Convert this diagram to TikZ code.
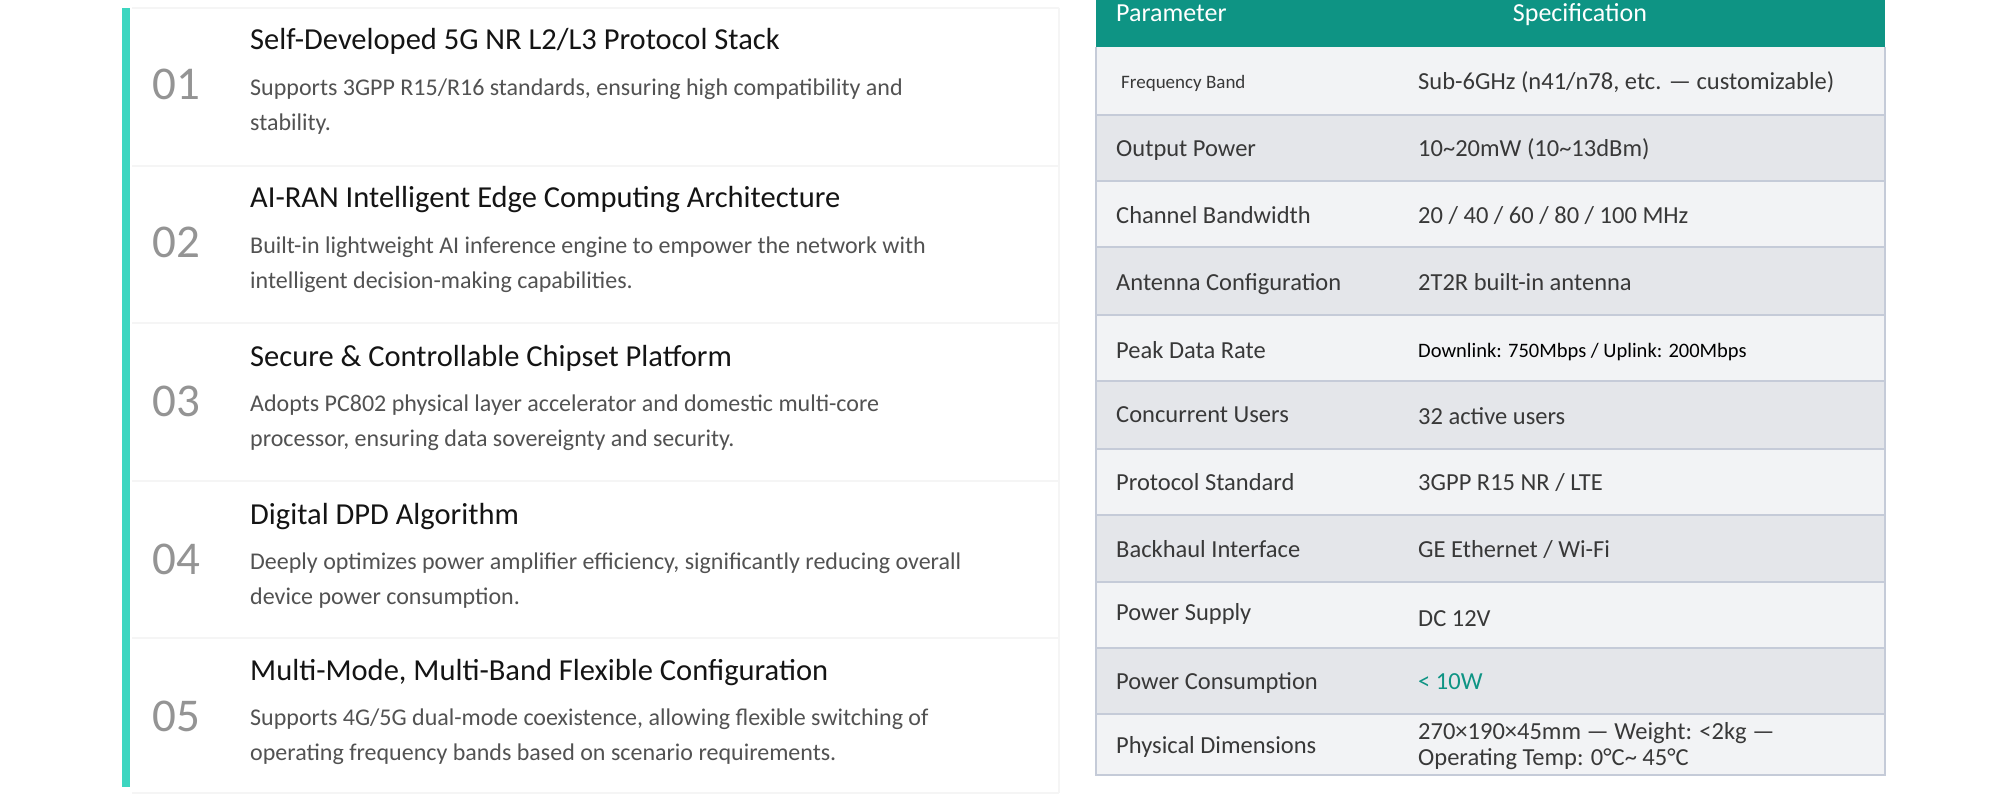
\documentclass[tikz,border=0pt]{standalone}
\usepackage{fontspec}
\setmainfont{Carlito}
\begin{document}
\begin{tikzpicture}[x=1pt,y=-1pt,
  num/.style={anchor=base west,text=black!42,font=\fontsize{47}{47}\selectfont,inner sep=0},
  ttl/.style={anchor=base west,text=black!92,font=\fontsize{30.5}{30}\selectfont,inner sep=0},
  dsc/.style={anchor=base west,text=black!68,font=\fontsize{24}{34.5}\selectfont,inner sep=0,align=left},
  sep/.style={draw=black!4,line width=1.2},
  cell/.style={anchor=base west,text=black!78,font=\fontsize{24.5}{24}\selectfont,inner sep=0},
  hd/.style={text=white,font=\fontsize{26}{26}\selectfont,inner sep=0,anchor=base},
]
\definecolor{teal1}{HTML}{0E9484}
\definecolor{acc}{HTML}{3DD6C0}
\definecolor{rA}{HTML}{F2F3F5}
\definecolor{rB}{HTML}{E4E6EA}
\definecolor{bd}{HTML}{C5CBD8}
\useasboundingbox (0,0) rectangle (2000,810);
\fill[white] (0,0) rectangle (2000,810);
% left panel
\fill[acc] (122,8) rectangle (130,787);
\foreach \y in {8,166,323,481,638,793} \draw[sep] (132,\y) -- (1059,\y);
\draw[sep] (1059,8) -- (1059,793);
\node[num] (n1) at (152,100) {01};
\node[num] (n2) at (152,258) {02};
\node[num] (n3) at (152,416) {03};
\node[num] (n4) at (152,574) {04};
\node[num] (n5) at (152,731) {05};
\node[ttl] (t1) at (250,50) {Self-Developed 5G NR L2/L3 Protocol Stack};
\node[ttl] (t2) at (250,208) {AI-RAN Intelligent Edge Computing Architecture};
\node[ttl] (t3) at (250,366) {Secure \& Controllable Chipset Platform};
\node[ttl] (t4) at (250,524) {Digital DPD Algorithm};
\node[ttl] (t5) at (250,680) {Multi-Mode, Multi-Band Flexible Configuration};
\node[dsc,anchor=north west] (d1) at (250,79) {Supports 3GPP R15/R16 standards, ensuring high compatibility and\\stability.};
\node[dsc,anchor=north west] (d2) at (250,237) {Built-in lightweight AI inference engine to empower the network with\\intelligent decision-making capabilities.};
\node[dsc,anchor=north west] (d3) at (250,395) {Adopts PC802 physical layer accelerator and domestic multi-core\\processor, ensuring data sovereignty and security.};
\node[dsc,anchor=north west] (d4) at (250,553) {Deeply optimizes power amplifier efficiency, significantly reducing overall\\device power consumption.};
\node[dsc,anchor=north west] (d5) at (250,709) {Supports 4G/5G dual-mode coexistence, allowing flexible switching of\\operating frequency bands based on scenario requirements.};
% table
\fill[teal1] (1096,0) rectangle (1885,47);
\node[hd,anchor=base west] (h1) at (1116,22) {Parameter};
\node[hd] (h2) at (1580,22) {Specification};
\fill[rA] (1096,47) rectangle (1885,115);
\fill[rB] (1096,115) rectangle (1885,181);
\fill[rA] (1096,181) rectangle (1885,247);
\fill[rB] (1096,247) rectangle (1885,315);
\fill[rA] (1096,315) rectangle (1885,381);
\fill[rB] (1096,381) rectangle (1885,449);
\fill[rA] (1096,449) rectangle (1885,515);
\fill[rB] (1096,515) rectangle (1885,582);
\fill[rA] (1096,582) rectangle (1885,648);
\fill[rB] (1096,648) rectangle (1885,714);
\fill[rA] (1096,714) rectangle (1885,775);
\foreach \y in {115,181,247,315,381,449,515,582,648,714} \draw[bd,line width=1.5] (1096,\y) -- (1885,\y);
\draw[bd,line width=1.5] (1096,47) -- (1096,775) -- (1885,775) -- (1885,47);
\node[cell,font=\fontsize{19}{19}\selectfont] (p1) at (1121,89) {Frequency Band};
\node[cell] (v1) at (1418,90) {Sub-6GHz (n41/n78, etc. — customizable)};
\node[cell] (p2) at (1116,157) {Output Power};
\node[cell] (v2) at (1418,157) {10\textasciitilde20mW (10\textasciitilde13dBm)};
\node[cell] (p3) at (1116,224) {Channel Bandwidth};
\node[cell] (v3) at (1418,224) {20 / 40 / 60 / 80 / 100 MHz};
\node[cell] (p4) at (1116,291) {Antenna Configuration};
\node[cell] (v4) at (1418,291) {2T2R built-in antenna};
\node[cell] (p5) at (1116,358) {Peak Data Rate};
\node[cell,text=black,font=\fontsize{20.5}{20}\selectfont] (v5) at (1418,357) {Downlink: 750Mbps / Uplink: 200Mbps};
\node[cell] (p6) at (1116,422) {Concurrent Users};
\node[cell] (v6) at (1418,424) {32 active users};
\node[cell] (p7) at (1116,490) {Protocol Standard};
\node[cell] (v7) at (1418,490) {3GPP R15 NR / LTE};
\node[cell] (p8) at (1116,557) {Backhaul Interface};
\node[cell] (v8) at (1418,557) {GE Ethernet / Wi-Fi};
\node[cell] (p9) at (1116,620) {Power Supply};
\node[cell] (v9) at (1418,626) {DC 12V};
\node[cell] (p10) at (1116,689) {Power Consumption};
\node[cell,text=teal1] (v10) at (1418,689) {< 10W};
\node[cell] (p11) at (1116,753) {Physical Dimensions};
\node[cell,align=left,anchor=north west,font=\fontsize{24.5}{26}\selectfont] (v11) at (1418,722) {270×190×45mm — Weight: <2kg —\\Operating Temp: 0°C\textasciitilde\ 45°C};
\end{tikzpicture}
\end{document}
